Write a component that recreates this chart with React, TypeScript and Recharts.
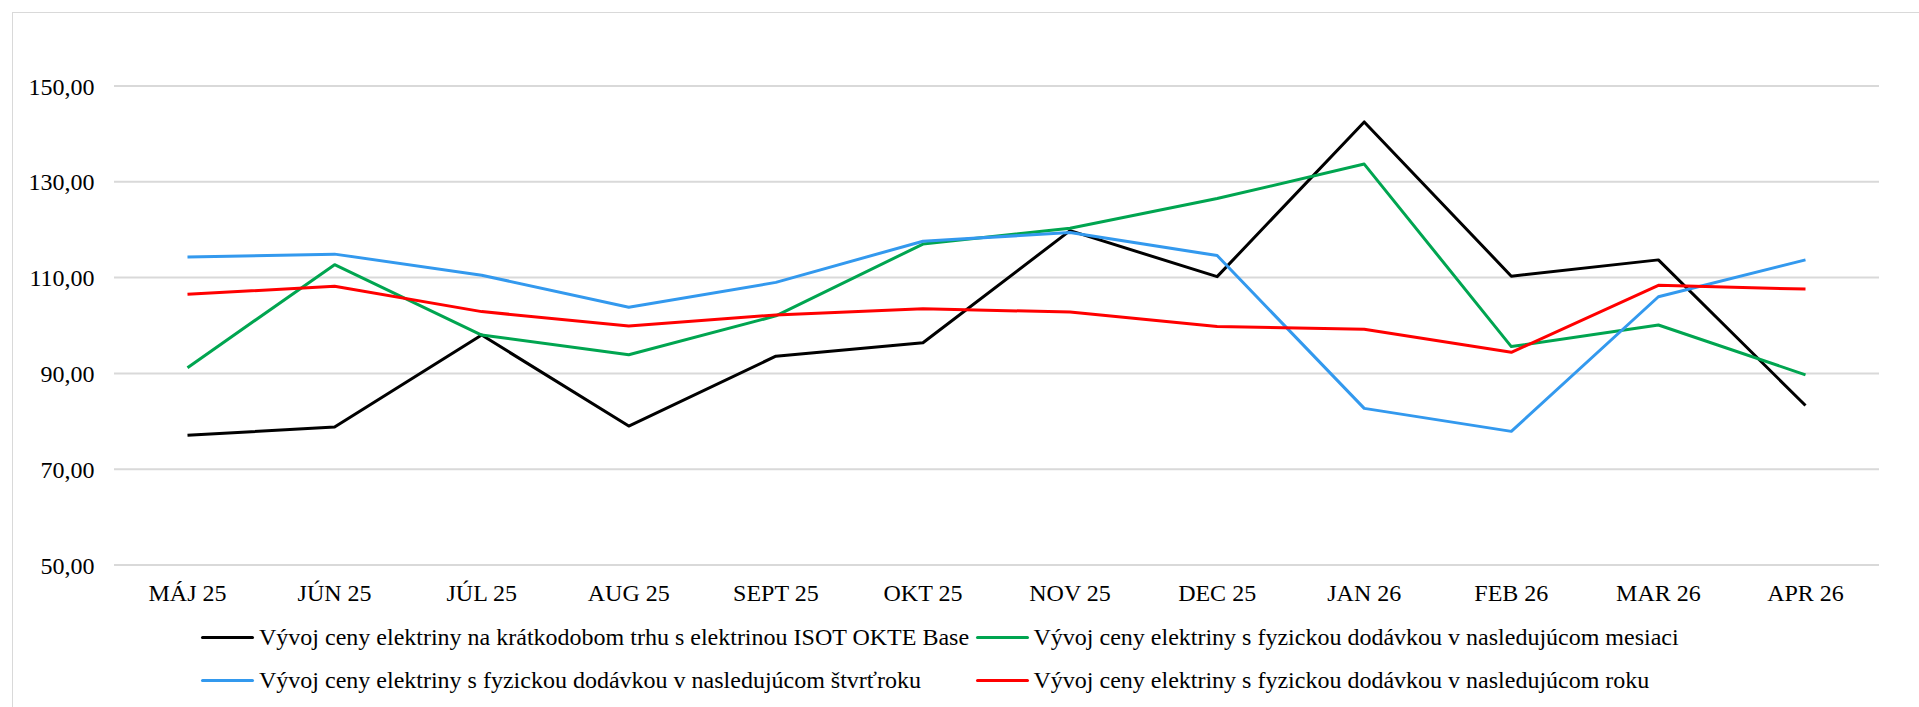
import React from 'react';
import { LineChart, Line, XAxis, YAxis, CartesianGrid, Legend } from 'recharts';

const categories = ['MÁJ 25', 'JÚN 25', 'JÚL 25', 'AUG 25', 'SEPT 25', 'OKT 25', 'NOV 25', 'DEC 25', 'JAN 26', 'FEB 26', 'MAR 26', 'APR 26'];
const spotIsot = [77.1, 78.8, 98.0, 79.0, 93.6, 96.4, 119.8, 110.2, 142.5, 110.3, 113.7, 83.3];
const nextMonth = [91.2, 112.7, 98.0, 93.9, 102.0, 117.0, 120.3, 126.5, 133.7, 95.6, 100.1, 89.7];
const nextQuarter = [114.3, 114.9, 110.5, 103.8, 109.0, 117.6, 119.4, 114.6, 82.7, 77.9, 106.0, 113.7];
const nextYear = [106.5, 108.2, 102.9, 99.9, 102.2, 103.5, 102.8, 99.8, 99.2, 94.4, 108.4, 107.6];
const yTicks = [50, 70, 90, 110, 130, 150];

const seriesNames = [
  'Vývoj ceny elektriny na krátkodobom trhu s elektrinou ISOT OKTE Base',
  'Vývoj ceny elektriny s fyzickou dodávkou v nasledujúcom mesiaci',
  'Vývoj ceny elektriny s fyzickou dodávkou v nasledujúcom štvrťroku',
  'Vývoj ceny elektriny s fyzickou dodávkou v nasledujúcom roku',
];
const seriesKeys = ['spot', 'month1', 'quarter', 'year'];

const data = categories.map((c, i) => ({
  month: c,
  spot: spotIsot[i],
  month1: nextMonth[i],
  quarter: nextQuarter[i],
  year: nextYear[i],
}));

const FONT = '"Liberation Serif", "Times New Roman", serif';

const LegendContent = (props: any) => {
  const payload = (props.payload || []).slice().sort(
    (a: any, b: any) => seriesKeys.indexOf(a.dataKey) - seriesKeys.indexOf(b.dataKey)
  );
  const colX = [201, 975.5];
  const rowY = [637.3, 680];
  return (
    <div style={{ position: 'relative', width: 1919, height: 707 }}>
      {payload.map((p: any, i: number) => {
        const row = Math.floor(i / 2);
        const col = i % 2;
        return (
          <div
            key={i}
            style={{
              position: 'absolute',
              left: colX[col],
              top: rowY[row] - 14,
              height: 28,
              display: 'flex',
              alignItems: 'center',
              whiteSpace: 'nowrap',
              fontFamily: FONT,
              fontSize: 24,
              lineHeight: '28px',
              color: '#000',
            }}
          >
            <span style={{ display: 'inline-block', width: 53, height: 3, background: p.color, borderRadius: 1.5, marginRight: 5 }} />
            <span>{p.value}</span>
          </div>
        );
      })}
    </div>
  );
};

export default function App() {
  return (
    <div style={{ position: 'absolute', left: 0, top: 0, width: 1919, height: 707, overflow: 'hidden', background: '#fff' }}>
      <div style={{ position: 'absolute', left: 12, top: 12, width: 1940, height: 740, border: '1.5px solid #d9d9d9' }} />
      <div style={{ position: 'absolute', left: 0, top: 0 }}>
        <LineChart width={1919} height={707} data={data} margin={{ top: 86, right: 40, bottom: 112, left: 0 }}>
          <CartesianGrid vertical={false} stroke="#d9d9d9" strokeWidth={2} />
          <XAxis
            dataKey="month"
            height={30}
            axisLine={false}
            tickLine={false}
            tickSize={0}
            tickMargin={19}
            padding={{ left: 73.5, right: 73.5 }}
            interval={0}
            tick={{ fill: '#000', fontSize: 24, fontFamily: FONT }}
          />
          <YAxis
            width={114}
            domain={[50, 150]}
            ticks={yTicks}
            axisLine={false}
            tickLine={false}
            tickSize={0}
            tickMargin={19.5}
            tickFormatter={(v: number) => v.toFixed(2).replace('.', ',')}
            tick={{ fill: '#000', fontSize: 24, fontFamily: FONT }}
          />
          <Legend
            layout="horizontal"
            verticalAlign="middle"
            align="center"
            itemSorter={null as any}
            wrapperStyle={{ left: 0, top: 0, width: 1919, height: 707, pointerEvents: 'none' }}
            content={<LegendContent />}
          />
          <Line type="linear" dataKey="spot" name={seriesNames[0]} stroke="#000000" strokeWidth={3} dot={false} strokeLinejoin="round" isAnimationActive={false} />
          <Line type="linear" dataKey="month1" name={seriesNames[1]} stroke="#00a550" strokeWidth={3} dot={false} strokeLinejoin="round" isAnimationActive={false} />
          <Line type="linear" dataKey="quarter" name={seriesNames[2]} stroke="#3399ee" strokeWidth={3} dot={false} strokeLinejoin="round" isAnimationActive={false} />
          <Line type="linear" dataKey="year" name={seriesNames[3]} stroke="#ff0000" strokeWidth={3} dot={false} strokeLinejoin="round" isAnimationActive={false} />
        </LineChart>
      </div>
    </div>
  );
}
